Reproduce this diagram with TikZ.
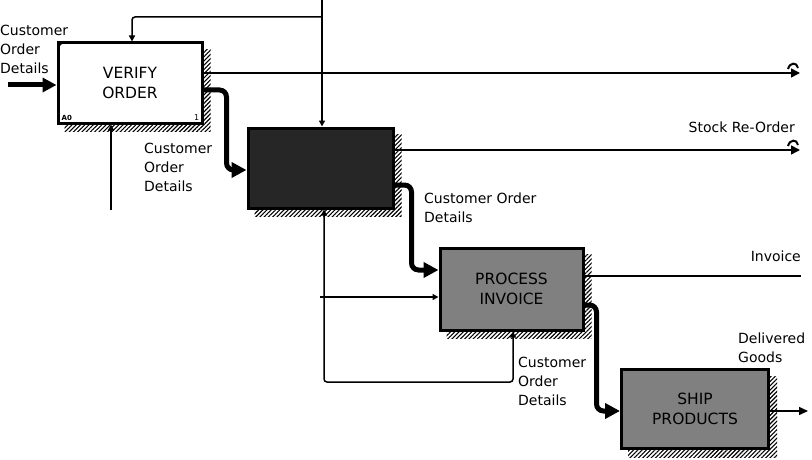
\documentclass[tikz,border=0pt]{standalone}
\usepackage{fontspec}
\setmainfont{DejaVu Sans}
\usetikzlibrary{arrows.meta,patterns.meta,backgrounds,calc}
\begin{document}
\begin{tikzpicture}[x=1pt,y=-1pt,
  lbl/.style={font=\fontsize{14}{19}\selectfont, align=left, inner sep=0pt, anchor=north west},
  abox/.style={draw=black, line width=3pt, align=center, inner sep=0pt,
    font=\fontsize{15.5}{20}\selectfont},
  thickflow/.style={line width=5pt, rounded corners=7pt, -{Triangle[length=15pt,width=15pt]}},
  thinarrow/.style={line width=1.5pt, -{Triangle[length=6pt,width=6pt]}},
  thinline/.style={line width=1.5pt},
  shadow/.style={pattern={Lines[angle=45,distance=3pt,line width=1.1pt]}, pattern color=black}
]
\useasboundingbox (0,0) rectangle (812,460);

% boxes
\node[abox, fill=white, minimum width=144pt, minimum height=80pt] (v) at (130,83) {VERIFY\\ORDER};
\node[abox, fill=black!85, minimum width=145pt, minimum height=80pt] (b2) at (320.5,168) {};
\node[abox, fill=black!50, minimum width=143pt, minimum height=82pt] (b3) at (511.5,289) {PROCESS\\INVOICE};
\node[abox, fill=black!50, minimum width=147pt, minimum height=79pt] (b4) at (695,409) {SHIP\\PRODUCTS};

% shadows
\begin{scope}[on background layer]
  \foreach \n in {v,b2,b3,b4}
    \fill[shadow] ($(\n.north west)+(8,8)$) rectangle ($(\n.south east)+(7,7)$);
\end{scope}

% box 1 decorations
\fill (v.north west) ++(1,1) -- ++(6,0) -- ++(-6,6) -- cycle;
\node[font=\fontsize{7}{8}\selectfont\bfseries, inner sep=0pt, anchor=south west] (v-id) at ($(v.south west)+(5,-4)$) {A0};
\node[font=\fontsize{8}{8}\selectfont, inner sep=0pt, anchor=south east] (v-no) at ($(v.south east)+(-4,-4)$) {1};

% main flows
\draw[thickflow] ([yshift=-7pt]v.east) -- ++(23,0) |- ([yshift=-2pt]b2.west);
\draw[thickflow] ([yshift=-17pt]b2.east) -- ++(17,0) |- ([yshift=19pt]b3.west);
\draw[thickflow] ([yshift=-16pt]b3.east) -- ++(12,0) |- ([yshift=-2pt]b4.west);

% input to box 1
\coordinate (in1) at (8,85);
\draw[line width=5pt, -{Triangle[length=14pt,width=14pt]}] (in1) -- (in1 -| v.west);

% controls
\coordinate (ctop) at (322,0);
\coordinate (cj) at (322,17);
\draw[thinarrow] (ctop) -- (ctop |- b2.north);
\draw[thinarrow, rounded corners=3pt] (cj) -| ([xshift=2pt]v.north);

% mechanism box 1
\coordinate (m1) at (111,210);
\draw[thinarrow] (m1) -- (m1 |- v.south);

% outputs with tunnels
\coordinate (o1) at (800,73);
\coordinate (o2) at (800,150);
\draw[thinline, -{Triangle[length=9pt,width=9pt]}] ([yshift=10pt]v.east) -- (o1);
\draw[thinline, -{Triangle[length=9pt,width=9pt]}] ([yshift=18pt]b2.east) -- (o2);
\foreach \o in {o1,o2}
  \draw[line width=2pt] ($(\o)+(-12,-4)$) .. controls ($(\o)+(-10,-11)$) and ($(\o)+(-3,-11)$) .. ($(\o)+(-2,-5)$);

\coordinate (o3) at (801,276);
\draw[thinline] ([yshift=13pt]b3.east) -- (o3);
\coordinate (o4) at (808,411);
\draw[thinline, -{Triangle[length=9pt,width=8pt]}] ([yshift=-2pt]b4.east) -- (o4);

% mechanisms of box 2 / box 3 loop
\coordinate (lb) at (324,382);
\coordinate (lr) at (513,382);
\draw[thinline, {Triangle[length=6pt,width=6pt]}-{Triangle[length=6pt,width=6pt]}, rounded corners=3pt]
  (lb |- b2.south) -- (lb) -- (lr) -- (lr |- b3.south);

% input to box 3 from the left
\coordinate (i3) at (320,297);
\draw[thinarrow] (i3) -- (i3 -| b3.west);

% labels
\node[lbl] (t1) at (0,25) {Customer\\Order\\Details};
\node[lbl] (t2) at (144,143) {Customer\\Order\\Details};
\node[lbl] (t3) at (424,193) {Customer Order\\Details};
\node[lbl] (t4) at (518,357) {Customer\\Order\\Details};
\node[lbl, anchor=north east] (t5) at (795,122) {Stock Re-Order};
\node[lbl, anchor=north east] (t6) at (801,251) {Invoice};
\node[lbl] (t7) at (738,333) {Delivered\\Goods};
\end{tikzpicture}
\end{document}
